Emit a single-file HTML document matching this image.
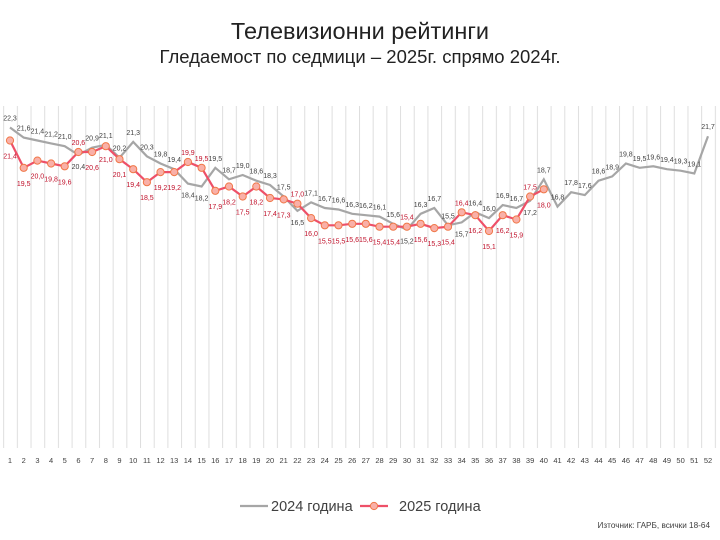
<!DOCTYPE html>
<html><head><meta charset="utf-8"><style>
body{margin:0;background:#fff;}
svg{display:block;font-family:"Liberation Sans",sans-serif;}
.g text{fill:#404040}
.r text{fill:#c0102a}
.lb text{font-size:7px;text-anchor:middle}
</style></head><body>
<svg width="720" height="540" viewBox="0 0 720 540">
<defs><pattern id="gp" x="3.16" y="0" width="13.686" height="10" patternUnits="userSpaceOnUse"><line x1="0.5" y1="0" x2="0.5" y2="10" stroke="#dedede" stroke-width="1"/></pattern></defs>
<rect x="3" y="106" width="714" height="342" fill="url(#gp)"/>
<text x="360" y="39" font-size="23.5" text-anchor="middle" fill="#222">Телевизионни рейтинги</text>
<text x="360" y="63" font-size="18.5" text-anchor="middle" fill="#222">Гледаемост по седмици – 2025г. спрямо 2024г.</text>
<polyline fill="none" stroke="#a6a6a6" stroke-width="2.2" points="10,127.5 23.7,137.6 37.4,140.5 51.1,143.4 64.7,146.2 78.4,154.9 92.1,147.7 105.8,144.8 119.5,157.7 133.2,141.9 146.9,156.3 160.5,163.5 174.2,169.2 187.9,183.6 201.6,186.5 215.3,167.8 229,179.3 242.7,175 256.3,180.7 270,185 283.7,196.5 297.4,210.9 311.1,202.3 324.8,208 338.5,209.5 352.2,213.8 365.8,215.2 379.5,216.6 393.2,223.8 406.9,229.6 420.6,213.8 434.3,208 448,225.3 461.7,222.4 475.3,212.3 489,218.1 502.7,205.1 516.4,208 530.1,200.8 543.8,179.3 557.5,206.6 571.1,192.2 584.8,195.1 598.5,180.7 612.2,176.4 625.9,163.5 639.6,167.8 653.3,166.3 666.9,169.2 680.6,170.7 694.3,173.5 708,136.2"/>
<polyline fill="none" stroke="#ee5068" stroke-width="2.2" points="10,140.5 23.7,167.8 37.4,160.6 51.1,163.5 64.7,166.3 78.4,152 92.1,152 105.8,146.2 119.5,159.2 133.2,169.2 146.9,182.2 160.5,172.1 174.2,172.1 187.9,162 201.6,167.8 215.3,190.8 229,186.5 242.7,196.5 256.3,186.5 270,198 283.7,199.4 297.4,203.7 311.1,218.1 324.8,225.3 338.5,225.3 352.2,223.8 365.8,223.8 379.5,226.7 393.2,226.7 406.9,226.7 420.6,223.8 434.3,228.1 448,226.7 461.7,212.3 475.3,215.2 489,231 502.7,215.2 516.4,219.5 530.1,196.5 543.8,189.3"/>
<g fill="#f9b0a8" stroke="#f07848" stroke-width="1">
<circle cx="10" cy="140.5" r="3.6"/><circle cx="23.7" cy="167.8" r="3.6"/><circle cx="37.4" cy="160.6" r="3.6"/><circle cx="51.1" cy="163.5" r="3.6"/><circle cx="64.7" cy="166.3" r="3.6"/><circle cx="78.4" cy="152" r="3.6"/><circle cx="92.1" cy="152" r="3.6"/><circle cx="105.8" cy="146.2" r="3.6"/><circle cx="119.5" cy="159.2" r="3.6"/><circle cx="133.2" cy="169.2" r="3.6"/><circle cx="146.9" cy="182.2" r="3.6"/><circle cx="160.5" cy="172.1" r="3.6"/><circle cx="174.2" cy="172.1" r="3.6"/><circle cx="187.9" cy="162" r="3.6"/><circle cx="201.6" cy="167.8" r="3.6"/><circle cx="215.3" cy="190.8" r="3.6"/><circle cx="229" cy="186.5" r="3.6"/><circle cx="242.7" cy="196.5" r="3.6"/><circle cx="256.3" cy="186.5" r="3.6"/><circle cx="270" cy="198" r="3.6"/><circle cx="283.7" cy="199.4" r="3.6"/><circle cx="297.4" cy="203.7" r="3.6"/><circle cx="311.1" cy="218.1" r="3.6"/><circle cx="324.8" cy="225.3" r="3.6"/><circle cx="338.5" cy="225.3" r="3.6"/><circle cx="352.2" cy="223.8" r="3.6"/><circle cx="365.8" cy="223.8" r="3.6"/><circle cx="379.5" cy="226.7" r="3.6"/><circle cx="393.2" cy="226.7" r="3.6"/><circle cx="406.9" cy="226.7" r="3.6"/><circle cx="420.6" cy="223.8" r="3.6"/><circle cx="434.3" cy="228.1" r="3.6"/><circle cx="448" cy="226.7" r="3.6"/><circle cx="461.7" cy="212.3" r="3.6"/><circle cx="475.3" cy="215.2" r="3.6"/><circle cx="489" cy="231" r="3.6"/><circle cx="502.7" cy="215.2" r="3.6"/><circle cx="516.4" cy="219.5" r="3.6"/><circle cx="530.1" cy="196.5" r="3.6"/><circle cx="543.8" cy="189.3" r="3.6"/>
</g>
<g class="g lb">
<text x="10" y="120.5">22,3</text><text x="23.7" y="130.6">21,6</text><text x="37.4" y="133.5">21,4</text><text x="51.1" y="136.4">21,2</text><text x="64.7" y="139.2">21,0</text><text x="78.4" y="168.9">20,4</text><text x="92.1" y="140.7">20,9</text><text x="105.8" y="137.8">21,1</text><text x="119.5" y="150.7">20,2</text><text x="133.2" y="134.9">21,3</text><text x="146.9" y="149.3">20,3</text><text x="160.5" y="156.5">19,8</text><text x="174.2" y="162.2">19,4</text><text x="187.9" y="197.6">18,4</text><text x="201.6" y="200.5">18,2</text><text x="215.3" y="160.8">19,5</text><text x="229" y="172.3">18,7</text><text x="242.7" y="168">19,0</text><text x="256.3" y="173.7">18,6</text><text x="270" y="178">18,3</text><text x="283.7" y="189.5">17,5</text><text x="297.4" y="224.9">16,5</text><text x="311.1" y="195.3">17,1</text><text x="324.8" y="201">16,7</text><text x="338.5" y="202.5">16,6</text><text x="352.2" y="206.8">16,3</text><text x="365.8" y="208.2">16,2</text><text x="379.5" y="209.6">16,1</text><text x="393.2" y="216.8">15,6</text><text x="406.9" y="243.6">15,2</text><text x="420.6" y="206.8">16,3</text><text x="434.3" y="201">16,7</text><text x="448" y="218.3">15,5</text><text x="461.7" y="236.4">15,7</text><text x="475.3" y="205.3">16,4</text><text x="489" y="211.1">16,0</text><text x="502.7" y="198.1">16,9</text><text x="516.4" y="201">16,7</text><text x="530.1" y="214.8">17,2</text><text x="543.8" y="172.3">18,7</text><text x="557.5" y="199.6">16,8</text><text x="571.1" y="185.2">17,8</text><text x="584.8" y="188.1">17,6</text><text x="598.5" y="173.7">18,6</text><text x="612.2" y="169.4">18,9</text><text x="625.9" y="156.5">19,8</text><text x="639.6" y="160.8">19,5</text><text x="653.3" y="159.3">19,6</text><text x="666.9" y="162.2">19,4</text><text x="680.6" y="163.7">19,3</text><text x="694.3" y="166.5">19,1</text><text x="708" y="129.2">21,7</text>
</g>
<g class="r lb">
<text x="10" y="158.5">21,4</text><text x="23.7" y="185.8">19,5</text><text x="37.4" y="178.6">20,0</text><text x="51.1" y="181.5">19,8</text><text x="64.7" y="184.3">19,6</text><text x="78.4" y="145">20,6</text><text x="92.1" y="170">20,6</text><text x="105.8" y="162.2">21,0</text><text x="119.5" y="177.2">20,1</text><text x="133.2" y="187.2">19,4</text><text x="146.9" y="200.2">18,5</text><text x="160.5" y="190.1">19,2</text><text x="174.2" y="190.1">19,2</text><text x="187.9" y="155">19,9</text><text x="201.6" y="160.8">19,5</text><text x="215.3" y="208.8">17,9</text><text x="229" y="204.5">18,2</text><text x="242.7" y="214.5">17,5</text><text x="256.3" y="204.5">18,2</text><text x="270" y="216">17,4</text><text x="283.7" y="217.4">17,3</text><text x="297.4" y="196.7">17,0</text><text x="311.1" y="236.1">16,0</text><text x="324.8" y="243.3">15,5</text><text x="338.5" y="243.3">15,5</text><text x="352.2" y="241.8">15,6</text><text x="365.8" y="241.8">15,6</text><text x="379.5" y="244.7">15,4</text><text x="393.2" y="244.7">15,4</text><text x="406.9" y="219.7">15,4</text><text x="420.6" y="241.8">15,6</text><text x="434.3" y="246.1">15,3</text><text x="448" y="244.7">15,4</text><text x="461.7" y="205.3">16,4</text><text x="475.3" y="233.2">16,2</text><text x="489" y="249">15,1</text><text x="502.7" y="233.2">16,2</text><text x="516.4" y="237.5">15,9</text><text x="530.1" y="189.5">17,5</text><text x="543.8" y="207.3">18,0</text>
</g>
<g font-size="7.5" fill="#404040" text-anchor="middle">
<text x="10" y="463">1</text><text x="23.7" y="463">2</text><text x="37.4" y="463">3</text><text x="51.1" y="463">4</text><text x="64.7" y="463">5</text><text x="78.4" y="463">6</text><text x="92.1" y="463">7</text><text x="105.8" y="463">8</text><text x="119.5" y="463">9</text><text x="133.2" y="463">10</text><text x="146.9" y="463">11</text><text x="160.5" y="463">12</text><text x="174.2" y="463">13</text><text x="187.9" y="463">14</text><text x="201.6" y="463">15</text><text x="215.3" y="463">16</text><text x="229" y="463">17</text><text x="242.7" y="463">18</text><text x="256.3" y="463">19</text><text x="270" y="463">20</text><text x="283.7" y="463">21</text><text x="297.4" y="463">22</text><text x="311.1" y="463">23</text><text x="324.8" y="463">24</text><text x="338.5" y="463">25</text><text x="352.2" y="463">26</text><text x="365.8" y="463">27</text><text x="379.5" y="463">28</text><text x="393.2" y="463">29</text><text x="406.9" y="463">30</text><text x="420.6" y="463">31</text><text x="434.3" y="463">32</text><text x="448" y="463">33</text><text x="461.7" y="463">34</text><text x="475.3" y="463">35</text><text x="489" y="463">36</text><text x="502.7" y="463">37</text><text x="516.4" y="463">38</text><text x="530.1" y="463">39</text><text x="543.8" y="463">40</text><text x="557.5" y="463">41</text><text x="571.1" y="463">42</text><text x="584.8" y="463">43</text><text x="598.5" y="463">44</text><text x="612.2" y="463">45</text><text x="625.9" y="463">46</text><text x="639.6" y="463">47</text><text x="653.3" y="463">48</text><text x="666.9" y="463">49</text><text x="680.6" y="463">50</text><text x="694.3" y="463">51</text><text x="708" y="463">52</text>
</g>
<line x1="240" y1="506" x2="268" y2="506" stroke="#a6a6a6" stroke-width="2.2"/>
<text x="271" y="511" font-size="14.5" fill="#404040">2024 година</text>
<line x1="360" y1="506" x2="388" y2="506" stroke="#ee5068" stroke-width="2.2"/>
<circle cx="374" cy="506" r="3.6" fill="#f9b0a8" stroke="#f07848"/>
<text x="399" y="511" font-size="14.5" fill="#404040">2025 година</text>
<text x="710" y="528" font-size="8.2" text-anchor="end" fill="#404040">Източник: ГАРБ, всички 18-64</text>
</svg>
</body></html>
